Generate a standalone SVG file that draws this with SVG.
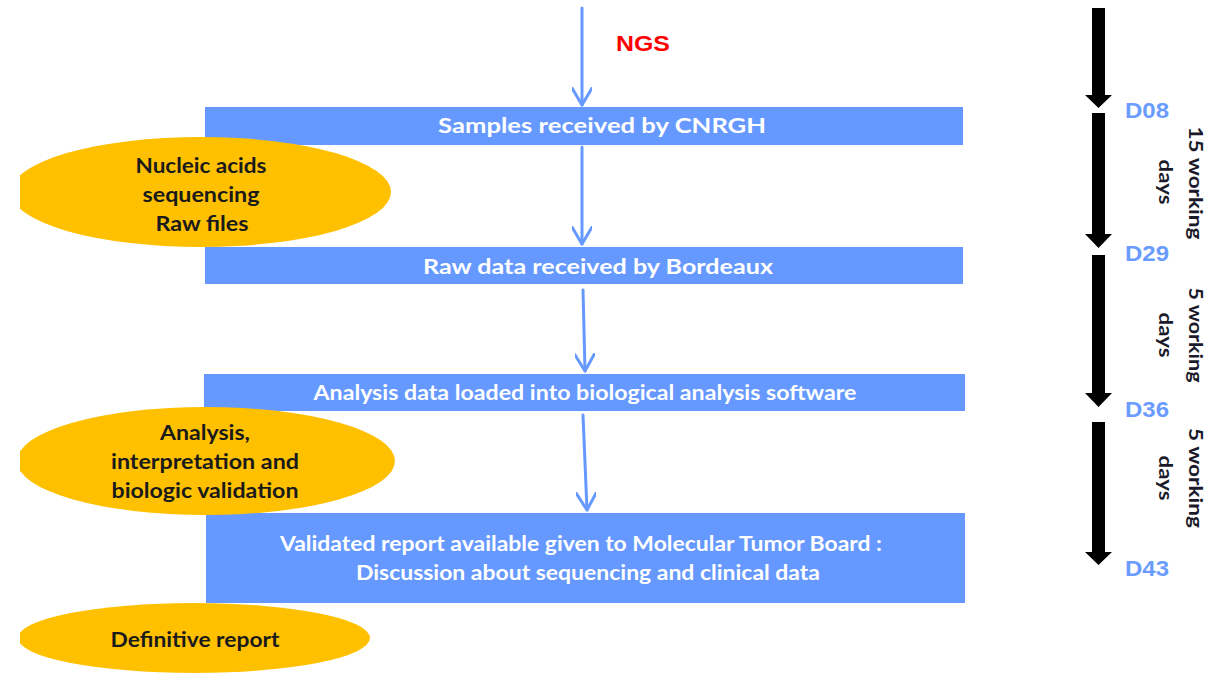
<svg xmlns="http://www.w3.org/2000/svg" width="1207" height="692" viewBox="0 0 1207 692">
<style>
.box{fill:#6699FF}
.oval{fill:#FFC000}
.bt{font-family:Lato,"Liberation Sans",sans-serif;font-weight:bold;font-size:20px;fill:#FFFFFF;text-anchor:middle}
.ot{font-family:Lato,"Liberation Sans",sans-serif;font-weight:bold;font-size:20px;fill:#1A1A1A;text-anchor:middle}
.dl{font-family:"Liberation Sans",Arial,sans-serif;font-weight:bold;font-size:22px;fill:#6A9CFF}
.rt{font-family:Lato,"Liberation Sans",sans-serif;font-weight:bold;font-size:18px;fill:#1A1A2A;text-anchor:middle}
.ng{font-family:"Liberation Sans",Arial,sans-serif;font-weight:bold;font-size:22px;fill:#FF0000}
.bl{stroke:#6699FF;stroke-width:3;fill:none;stroke-linecap:round}
.ka{fill:#000000}
</style>
<defs>
<marker id="vh" viewBox="0 0 20 20" refX="18" refY="10" markerWidth="20" markerHeight="20" markerUnits="userSpaceOnUse" orient="auto">
<path d="M1,0 L18,10 L1,20" fill="none" stroke="#6699FF" stroke-width="3" stroke-linejoin="round" stroke-linecap="round"/>
</marker>
<clipPath id="lc"><rect x="20" y="0" width="1187" height="692"/></clipPath>
</defs>
<rect width="1207" height="692" fill="#FFFFFF"/>

<g id="connectors">
<path class="bl" d="M582,8 L582,105" marker-end="url(#vh)"/>
<path class="bl" d="M582,147 L582,244" marker-end="url(#vh)"/>
<path class="bl" d="M583,290 L585,371" marker-end="url(#vh)"/>
<path class="bl" d="M583,415 L587,510" marker-end="url(#vh)"/>
</g>

<g id="ngs-label"><text class="ng" x="616" y="51" textLength="54" lengthAdjust="spacingAndGlyphs">NGS</text></g>

<g id="box-samples">
<rect class="box" x="205" y="107" width="758" height="38"/>
<text class="bt" x="602" y="133" textLength="328" lengthAdjust="spacingAndGlyphs">Samples received by CNRGH</text>
</g>
<g id="box-rawdata">
<rect class="box" x="205" y="247" width="758" height="37"/>
<text class="bt" x="598" y="274" textLength="350" lengthAdjust="spacingAndGlyphs">Raw data received by Bordeaux</text>
</g>
<g id="box-analysis">
<rect class="box" x="204" y="374" width="761" height="37"/>
<text class="bt" x="585" y="400" textLength="543" lengthAdjust="spacingAndGlyphs">Analysis data loaded into biological analysis software</text>
</g>
<g id="box-report">
<rect class="box" x="206" y="513" width="759" height="90"/>
<text class="bt" x="581" y="551" textLength="602" lengthAdjust="spacingAndGlyphs">Validated report available given to Molecular Tumor Board :</text>
<text class="bt" x="588" y="580" textLength="464" lengthAdjust="spacingAndGlyphs">Discussion about sequencing and clinical data</text>
</g>

<g id="oval-sequencing">
<ellipse class="oval" cx="201" cy="192" rx="190" ry="55" clip-path="url(#lc)"/>
<text class="ot" x="201" y="173" textLength="131" lengthAdjust="spacingAndGlyphs">Nucleic acids</text>
<text class="ot" x="201" y="202" textLength="117" lengthAdjust="spacingAndGlyphs">sequencing</text>
<text class="ot" x="202" y="231" textLength="93" lengthAdjust="spacingAndGlyphs">Raw files</text>
</g>
<g id="oval-analysis">
<ellipse class="oval" cx="206" cy="461" rx="189" ry="54" clip-path="url(#lc)"/>
<text class="ot" x="205" y="440" textLength="90" lengthAdjust="spacingAndGlyphs">Analysis,</text>
<text class="ot" x="205" y="469" textLength="188" lengthAdjust="spacingAndGlyphs">interpretation and</text>
<text class="ot" x="205" y="498" textLength="187" lengthAdjust="spacingAndGlyphs">biologic validation</text>
</g>
<g id="oval-definitive">
<ellipse class="oval" cx="194" cy="638" rx="176" ry="35" clip-path="url(#lc)"/>
<text class="ot" x="195" y="647" textLength="169" lengthAdjust="spacingAndGlyphs">Definitive report</text>
</g>

<g id="timeline">
<polygon class="ka" points="1092,8 1105,8 1105,95 1112,95 1098.5,108 1085,95 1092,95"/>
<polygon class="ka" points="1092,113 1105,113 1105,234 1112,234 1098.5,248 1085,234 1092,234"/>
<polygon class="ka" points="1092,255 1105,255 1105,393 1112,393 1098.5,407 1085,393 1092,393"/>
<polygon class="ka" points="1092,422 1105,422 1105,552 1112,552 1098.5,565 1085,552 1092,552"/>
<text class="dl" x="1125" y="118" textLength="44" lengthAdjust="spacingAndGlyphs">D08</text>
<text class="dl" x="1125" y="261" textLength="44" lengthAdjust="spacingAndGlyphs">D29</text>
<text class="dl" x="1125" y="417" textLength="44" lengthAdjust="spacingAndGlyphs">D36</text>
<text class="dl" x="1125" y="576" textLength="44" lengthAdjust="spacingAndGlyphs">D43</text>
<g transform="translate(1189,183) rotate(90)"><text class="rt" x="0" y="0" textLength="113" lengthAdjust="spacingAndGlyphs">15 working</text></g>
<g transform="translate(1159,182) rotate(90)"><text class="rt" x="0" y="0" textLength="45" lengthAdjust="spacingAndGlyphs">days</text></g>
<g transform="translate(1189,335) rotate(90)"><text class="rt" x="0" y="0" textLength="95" lengthAdjust="spacingAndGlyphs">5 working</text></g>
<g transform="translate(1159,335) rotate(90)"><text class="rt" x="0" y="0" textLength="45" lengthAdjust="spacingAndGlyphs">days</text></g>
<g transform="translate(1189,478) rotate(90)"><text class="rt" x="0" y="0" textLength="100" lengthAdjust="spacingAndGlyphs">5 working</text></g>
<g transform="translate(1159,478) rotate(90)"><text class="rt" x="0" y="0" textLength="45" lengthAdjust="spacingAndGlyphs">days</text></g>
</g>
</svg>
